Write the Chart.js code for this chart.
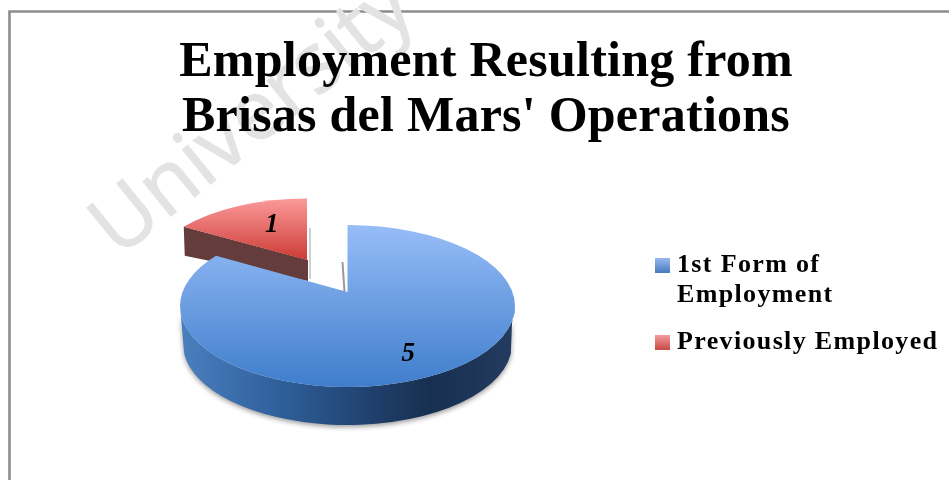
<!DOCTYPE html>
<html>
<head>
<meta charset="utf-8">
<style>html,body{margin:0;padding:0;background:#fff}canvas{display:block}</style>
<script src="https://cdn.jsdelivr.net/npm/chart.js@4"></script>
</head>
<body>
<div style="width:949px;height:480px"><canvas id="c" width="949" height="480"></canvas></div>
<script>
const categories = [['1st Form of', 'Employment'], 'Previously Employed'];
const values = [5, 1];
const titleLines = ['Employment Resulting from', "Brisas del Mars' Operations"];
const watermark = 'University';

const SERIF = '"Liberation Serif", serif';
const tilt = 0.173;
const shapes = [
  {cx:347.5, cy:306, rx:167.5, ry:81, depth:38, top:['#97bdf8','#3f7dcb'], key:['#9abcf0','#4a7cc0'], lr:0.75, ldx:-9, ldy:5},
  {cx:307, cy:273, rx:157, ry:74.5, depth:25, top:['#fb9a9a','#cc3b35'], key:['#f5a0a0','#c94a48'], lr:0.58, ldx:6, ldy:-2}
];

function project(t){
  const x = Math.sin(t), y = -Math.cos(t), den = 1 - tilt*y;
  return {x: x*Math.sqrt(1-tilt*tilt)/den, y: (y-tilt)/den};
}
function paramOf(t){ const p = project(t); return Math.atan2(p.y, p.x); }

function keySwatch(i){
  const c = document.createElement('canvas');
  c.width = 15; c.height = 15;
  const x = c.getContext('2d');
  const g = x.createLinearGradient(0,0,0,15);
  g.addColorStop(0, shapes[i].key[0]); g.addColorStop(1, shapes[i].key[1]);
  x.fillStyle = g; x.fillRect(0,0,15,15);
  return c;
}
function spaced(box, spacing, dx, dy, extra){
  const orig = box.draw;
  box.draw = function(area){
    const ctx = this.ctx;
    ctx.save();
    ctx.letterSpacing = spacing;
    ctx.translate(dx ? dx(this) : 0, dy ? dy(this) : 0);
    this.right += extra || 0;
    orig.call(this, area);
    this.right -= extra || 0;
    ctx.restore();
  };
  box._spaced = true;
}

const pie3d = {
  id:'pie3d',
  beforeDraw(chart){
    const ctx = chart.ctx;
    if (!chart.titleBlock._spaced) spaced(chart.titleBlock, '0.25px');
    if (!chart.legend._spaced) spaced(chart.legend, '1.35px',
      l => 661 - l.legendHitBoxes[0].left,
      l => 252 - l.legendHitBoxes[0].top, 120);
    ctx.save();
    ctx.fillStyle = '#fff';
    ctx.fillRect(0,0,chart.width,chart.height);
    ctx.strokeStyle = '#8c8c8c';
    ctx.lineWidth = 2.6;
    ctx.beginPath();
    ctx.moveTo(9.5,480); ctx.lineTo(9.5,11.5); ctx.lineTo(949,11.5);
    ctx.stroke();
    ctx.translate(118.5,258.5);
    ctx.rotate(-39*Math.PI/180);
    ctx.font = '83px "Open Sans", sans-serif';
    ctx.fillStyle = '#e3e3e3';
    ctx.strokeStyle = '#e3e3e3';
    ctx.lineWidth = 1.2;
    ctx.fillText(watermark,0,0);
    ctx.strokeText(watermark,0,0);
    ctx.restore();
  },
  beforeDatasetsDraw(chart){
    const ctx = chart.ctx;
    const arcs = chart.getDatasetMeta(0).data;
    const tOf = a => a + Math.PI/2;
    drawExploded(ctx, arcs[1], shapes[1], tOf);
    drawMain(ctx, arcs[0], shapes[0], tOf);

    ctx.save();
    ctx.fillStyle = '#000';
    ctx.textAlign = 'center';
    ctx.textBaseline = 'middle';
    ctx.font = 'italic bold 27px ' + SERIF;
    arcs.forEach((arc,i)=>{
      const s = shapes[i];
      const mid = tOf((arc.startAngle+arc.endAngle)/2);
      const x = Math.sin(mid)*s.lr, y = -Math.cos(mid)*s.lr, den = 1-tilt*y;
      const px = x*Math.sqrt(1-tilt*tilt)/den, py = (y-tilt)/den;
      ctx.fillText(String(values[i]), s.cx+px*s.rx+s.ldx, s.cy+py*s.ry+s.ldy);
    });
    ctx.restore();
    return false;
  }
};

function topFace(ctx, arc, s, tOf){
  const a0 = paramOf(tOf(arc.startAngle)), a1 = paramOf(tOf(arc.endAngle));
  ctx.beginPath();
  ctx.moveTo(s.cx, s.cy - tilt*s.ry);
  ctx.ellipse(s.cx, s.cy, s.rx, s.ry, 0, a0, a1);
  ctx.closePath();
}
function drawExploded(ctx, arc, s, tOf){
  const a0 = paramOf(tOf(arc.startAngle));
  const lx = s.cx + Math.cos(a0)*s.rx, ly = s.cy + Math.sin(a0)*s.ry;
  const ax = s.cx, ay = s.cy - tilt*s.ry;
  ctx.save();
  ctx.strokeStyle = 'rgba(120,120,120,0.35)';
  ctx.lineWidth = 2;
  ctx.beginPath(); ctx.moveTo(ax+3, ay-32); ctx.lineTo(ax+3, ay+s.depth-6); ctx.stroke();
  ctx.fillStyle = '#653c3c';
  ctx.beginPath();
  ctx.moveTo(lx,ly); ctx.lineTo(ax+1,ay); ctx.lineTo(ax+1,ay+21); ctx.lineTo(lx+1,ly+29);
  ctx.closePath(); ctx.fill();
  const g = ctx.createLinearGradient(0, s.cy-s.ry, 0, ay);
  g.addColorStop(0, s.top[0]); g.addColorStop(1, s.top[1]);
  ctx.fillStyle = g;
  topFace(ctx, arc, s, tOf);
  ctx.fill();
  ctx.restore();
}
function drawMain(ctx, arc, s, tOf){
  ctx.save();
  ctx.strokeStyle = 'rgba(70,70,70,0.55)';
  ctx.lineWidth = 2;
  ctx.beginPath(); ctx.moveTo(s.cx-5, s.cy-44); ctx.lineTo(s.cx-3, s.cy-tilt*s.ry); ctx.stroke();
  const sg = ctx.createLinearGradient(s.cx-s.rx, 0, s.cx+s.rx, 0);
  sg.addColorStop(0,'#4a7fbe');
  sg.addColorStop(0.3,'#2f5f9b');
  sg.addColorStop(0.62,'#1d3b64');
  sg.addColorStop(0.75,'#173050');
  sg.addColorStop(1,'#233c60');
  ctx.shadowColor = 'rgba(0,0,0,0.4)';
  ctx.shadowBlur = 5;
  ctx.shadowOffsetY = 2;
  ctx.fillStyle = sg;
  ctx.beginPath();
  ctx.ellipse(s.cx, s.cy, s.rx, s.ry, 0, Math.PI, 0, true);
  ctx.lineTo(s.cx+s.rx-3, s.cy+s.depth*0.45);
  ctx.ellipse(s.cx, s.cy+s.depth, s.rx-3, s.ry, 0, 0.12, Math.PI-0.12);
  ctx.closePath();
  ctx.fill();
  ctx.shadowColor = 'transparent';
  const g = ctx.createLinearGradient(0, s.cy-s.ry, 0, s.cy+s.ry);
  g.addColorStop(0, s.top[0]); g.addColorStop(1, s.top[1]);
  ctx.fillStyle = g;
  topFace(ctx, arc, s, tOf);
  ctx.fill();
  ctx.restore();
}

const canvas = document.getElementById('c');

new Chart(canvas, {
  type:'pie',
  data:{labels:categories, datasets:[{data:values, backgroundColor:['#4f81bd','#c0504d'], borderWidth:0}]},
  options:{
    responsive:false,
    animation:false,
    devicePixelRatio:1,
    layout:{padding:{left:23, right:0, top:36, bottom:0}},
    plugins:{
      tooltip:{enabled:false},
      title:{display:true, text:titleLines, color:'#000', padding:{top:0,bottom:0},
        font:{family:SERIF, weight:'bold', size:50, lineHeight:1.1}},
      legend:{
        position:'right',
        align:'start',
        labels:{
          color:'#000',
          font:{family:SERIF, weight:'bold', size:26, lineHeight:1.154},
          boxWidth:15, boxHeight:15, padding:17,
          usePointStyle:true, pointStyleWidth:3,
          generateLabels(chart){
            return categories.map((text,i)=>({
              text, pointStyle:keySwatch(i), fillStyle:shapes[i].key[1], strokeStyle:'transparent',
              lineWidth:0, hidden:false, index:i, fontColor:'#000'
            }));
          }
        }
      }
    }
  },
  plugins:[pie3d]
});
</script>
</body>
</html>
